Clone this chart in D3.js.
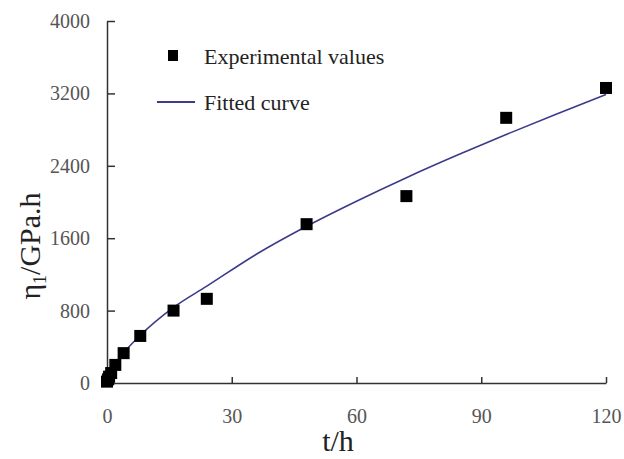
<!DOCTYPE html>
<html>
<head>
<meta charset="utf-8">
<script src="https://cdn.jsdelivr.net/npm/d3@7"></script>
<style>
  body { margin: 0; background: #fff; }
  text { font-family: "Liberation Serif", "DejaVu Serif", serif; }
</style>
</head>
<body>
<div id="chart"></div>
<script>
// experimental values
const expTime = [0, 0.25, 0.5, 1, 2, 4, 8, 16, 24, 48, 72, 96, 120];
const expEta = [15, 40, 70, 110, 200, 330, 520, 800, 930, 1755, 2065, 2930, 3260];

// fitted curve
const fitTime = [0, 0.5, 1, 2, 4, 8, 16, 24, 36, 48, 60, 72, 84, 96, 108, 120];
const fitEta = [0, 83, 132, 209, 332, 526, 835, 1070, 1425, 1732, 2009, 2269, 2513, 2746, 2970, 3187];

const xTicks = [0, 30, 60, 90, 120];
const yTicks = [0, 800, 1600, 2400, 3200, 4000];

const width = 624, height = 459;
const margin = {left: 107, right: 18, top: 21, bottom: 76};

let svg = d3.select("#chart")
    .append("svg")
    .attr("width", width)
    .attr("height", height);

let x = d3.scaleLinear()
    .domain([0, 120])
    .range([margin.left, width - margin.right]);

let y = d3.scaleLinear()
    .domain([0, 4000])
    .range([height - margin.bottom, margin.top]);

// axes, ticks pointing inward
let xAxis = svg.append("g")
    .attr("transform", `translate(0, ${y(0)})`)
    .call(d3.axisBottom(x).tickValues(xTicks).tickFormat(d3.format("d"))
        .tickSizeInner(-6).tickSizeOuter(0).tickPadding(26));

let yAxis = svg.append("g")
    .attr("transform", `translate(${x(0)}, 0)`)
    .call(d3.axisLeft(y).tickValues(yTicks).tickFormat(d3.format("d"))
        .tickSizeInner(-8).tickSizeOuter(0).tickPadding(17));

svg.selectAll(".domain, .tick line")
    .attr("stroke", "#333")
    .attr("stroke-width", 1.5);

svg.selectAll(".tick text")
    .attr("fill", "#555")
    .style("font-size", "20px")
    .style("font-family", "'Liberation Serif', serif");

// fitted curve
let fitData = fitTime.map((t, i) => [t, fitEta[i]]);
svg.append("path")
    .datum(fitData)
    .attr("fill", "none")
    .attr("stroke", "#3b3b8a")
    .attr("stroke-width", 1.6)
    .attr("d", d3.line().x(d => x(d[0])).y(d => y(d[1])).curve(d3.curveMonotoneX));

// experimental squares
let sq = 12;
svg.append("g")
    .selectAll("rect")
    .data(expTime.map((t, i) => [t, expEta[i]]))
    .enter()
    .append("rect")
    .attr("x", d => x(d[0]) - sq / 2)
    .attr("y", d => y(d[1]) - sq / 2)
    .attr("width", sq)
    .attr("height", sq)
    .attr("fill", "#000");

// legend
let legend = svg.append("g");
legend.append("rect")
    .attr("x", 168).attr("y", 50)
    .attr("width", 10).attr("height", 11)
    .attr("fill", "#000");
legend.append("text")
    .attr("x", 204).attr("y", 64)
    .style("font-size", "22px")
    .attr("fill", "#222")
    .text("Experimental values");
legend.append("line")
    .attr("x1", 157).attr("x2", 195)
    .attr("y1", 102).attr("y2", 102)
    .attr("stroke", "#3b3b8a")
    .attr("stroke-width", 2);
legend.append("text")
    .attr("x", 204).attr("y", 110)
    .style("font-size", "22px")
    .attr("fill", "#222")
    .text("Fitted curve");

// axis titles
svg.append("text")
    .attr("x", 338).attr("y", 451)
    .style("text-anchor", "middle")
    .style("font-size", "30px")
    .attr("fill", "#222")
    .text("t/h");

let yTitle = svg.append("text")
    .attr("transform", "translate(40, 246) rotate(-90)")
    .style("text-anchor", "middle")
    .style("font-size", "30px")
    .attr("fill", "#222");
yTitle.append("tspan").text("η");
yTitle.append("tspan").attr("dy", 6).style("font-size", "18px").text("1");
yTitle.append("tspan").attr("dy", -6).text("/GPa.h");
</script>
</body>
</html>
